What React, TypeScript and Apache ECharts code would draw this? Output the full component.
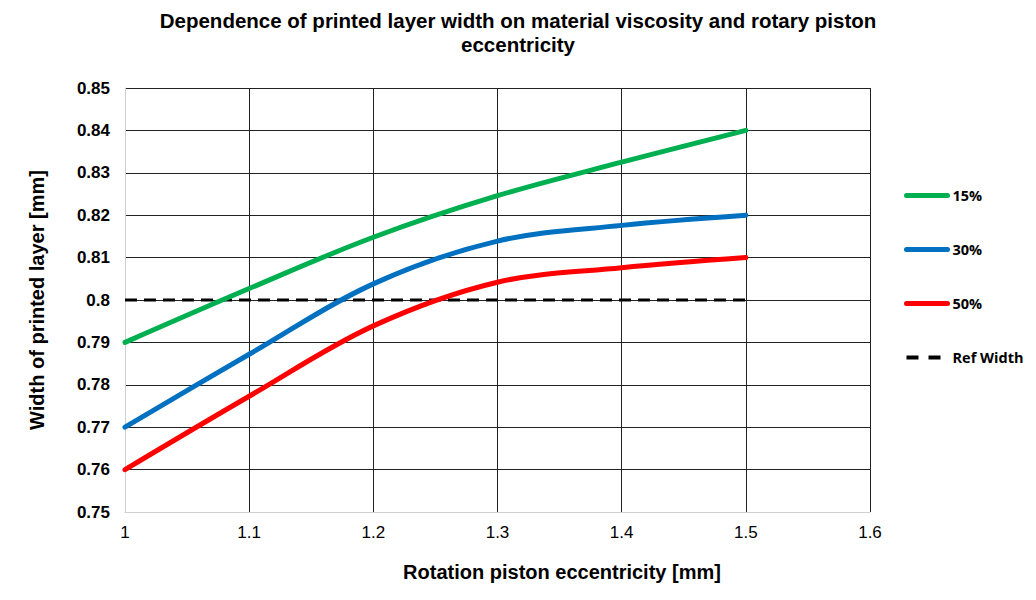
import React, { useEffect, useRef } from "react";
import * as echarts from "echarts";

const xValues = [1.0, 1.1, 1.2, 1.3, 1.4, 1.5];
const series15 = [0.79, 0.8027, 0.8148, 0.8246, 0.8325, 0.84];
const series30 = [0.77, 0.7872, 0.8038, 0.8139, 0.8176, 0.82];
const series50 = [0.76, 0.7773, 0.7939, 0.8042, 0.8076, 0.81];
const refX = [1.0, 1.5];
const refY = [0.8, 0.8];
const seriesNames = ["15%", "30%", "50%", "Ref Width"];
const colors = ["#00B050", "#0070C0", "#FF0000", "#000000"];

const pair = (xs: number[], ys: number[]) => xs.map((x, i) => [x, ys[i]]);

export default function App() {
  const ref = useRef<HTMLDivElement>(null);
  useEffect(() => {
    if (!ref.current) return;
    const chart = echarts.init(ref.current, undefined, { renderer: "svg" });
    const lineSeries = [series15, series30, series50].map((ys, i) => ({
      name: seriesNames[i],
      type: "line",
      data: pair(xValues, ys),
      smooth: 0.35,
      showSymbol: false,
      symbol: "none",
      lineStyle: { color: colors[i], width: 5, cap: "round" },
      itemStyle: { color: colors[i] },
      z: 3 + i,
    }));
    chart.setOption({
      animation: false,
      backgroundColor: "#ffffff",
      title: {
        text: "Dependence of printed layer width on material viscosity and rotary piston\neccentricity",
        left: "center",
        top: 3,
        textStyle: {
          fontFamily: "'Liberation Sans', Arial, sans-serif",
          fontWeight: "bold",
          fontSize: 20.5,
          lineHeight: 24,
          color: "#000",
        },
      },
      legend: {
        orient: "vertical",
        left: 899,
        top: 183,
        padding: 5,
        itemWidth: 41,
        itemHeight: 18,
        itemGap: 39,
        data: seriesNames.map((n, i) => ({
          name: n,
          itemStyle: { opacity: 0 },
          lineStyle:
            i === 3
              ? { color: "#000", width: 4, type: [12, 10] }
              : { color: colors[i], width: 5, cap: "round" },
        })),
        textStyle: {
          fontFamily: "'Open Sans', 'Liberation Sans', sans-serif",
          fontWeight: "bold",
          fontSize: 14.5,
          color: "#000",
        },
      },
      grid: { left: 125, right: 166, top: 88, bottom: 88, containLabel: false },
      xAxis: {
        type: "value",
        min: 1,
        max: 1.6,
        interval: 0.1,
        axisLine: { show: true, lineStyle: { color: "#d0d0d0", width: 1 } },
        axisTick: { show: false },
        axisLabel: {
          margin: 12,
          fontFamily: "'Liberation Sans', sans-serif",
          fontSize: 17,
          color: "#000",
          formatter: (v: number) => String(Math.round(v * 10) / 10),
        },
        splitLine: { show: true, lineStyle: { color: "#222", width: 1 } },
      },
      yAxis: {
        type: "value",
        min: 0.75,
        max: 0.85,
        interval: 0.01,
        name: "Width of printed layer [mm]",
        nameLocation: "middle",
        nameGap: 78,
        nameTextStyle: {
          fontFamily: "'Liberation Sans', Arial, sans-serif",
          fontWeight: "bold",
          fontSize: 20,
          color: "#000",
        },
        axisLine: { show: true, lineStyle: { color: "#d0d0d0", width: 1 } },
        axisTick: { show: false },
        axisLabel: {
          margin: 15,
          fontFamily: "'Liberation Sans', Arial, sans-serif",
          fontWeight: "bold",
          fontSize: 17,
          color: "#000",
          formatter: (v: number) => String(Math.round(v * 100) / 100),
        },
        splitLine: { show: true, lineStyle: { color: "#222", width: 1 } },
      },
      graphic: [
        {
          type: "text",
          x: 562,
          y: 572,
          style: {
            text: "Rotation piston eccentricity [mm]",
            fontFamily: "'Liberation Sans', Arial, sans-serif",
            fontWeight: "bold",
            fontSize: 20,
            fill: "#000",
            align: "center",
            verticalAlign: "middle",
          },
        },
      ],
      series: [
        ...lineSeries,
        {
          name: seriesNames[3],
          type: "line",
          data: pair(refX, refY),
          showSymbol: false,
          symbol: "none",
          lineStyle: { color: "#000", width: 3, type: [12, 7] },
          itemStyle: { color: "#000" },
          z: 2,
        },
      ],
    });
    return () => chart.dispose();
  }, []);
  return <div ref={ref} style={{ width: 1036, height: 600, margin: -8 }} />;
}
